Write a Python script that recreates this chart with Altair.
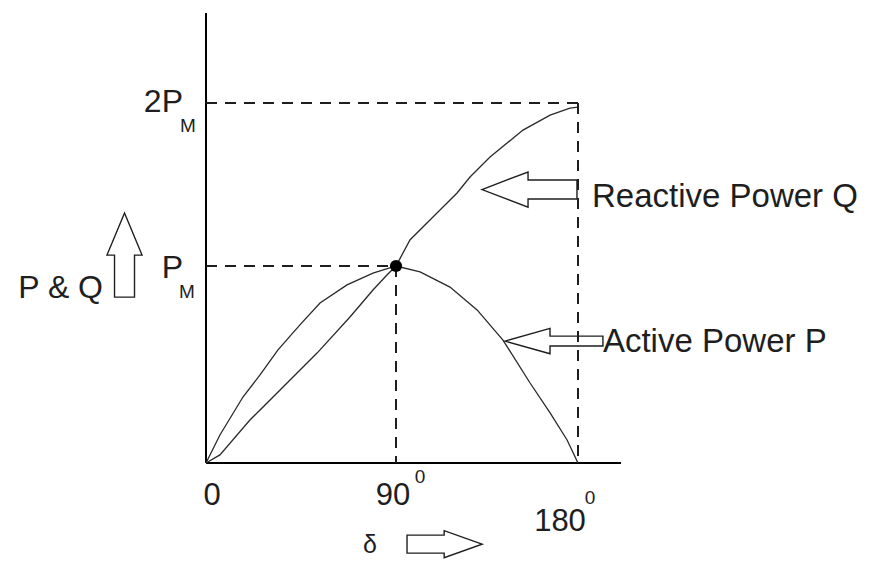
import altair as alt
import pandas as pd

# ---- data (delta in degrees, value in units of P_M) ----
delta_P = [0, 6.6, 17.5, 25.6, 34.1, 44.5, 54.0, 66.8, 79.1, 90, 101.9, 116.7, 130.1, 142.9, 156.3, 166.2, 174.6, 180]
P_vals = [0, 0.142, 0.335, 0.447, 0.574, 0.701, 0.812, 0.904, 0.964, 1.0, 0.970, 0.893, 0.777, 0.624, 0.406, 0.254, 0.117, 0]

delta_Q = [0, 6.6, 20.8, 36.5, 52.6, 68.2, 79.1, 85.7, 90, 96.9, 106.8, 120.2, 126.6, 136.5, 152.8, 166.2, 176.0, 180]
Q_vals = [0, 0.041, 0.218, 0.386, 0.558, 0.741, 0.878, 0.954, 1.0, 1.160, 1.282, 1.448, 1.546, 1.669, 1.834, 1.926, 1.969, 1.975]

x_ticks = [0, 90, 180]
x_tick_labels = ["0", "90", "180"]
y_ticks = [1, 2]
y_tick_labels = ["P", "2P"]
sub_label = "M"
sup_label = "0"

series_names = ["Active Power P", "Reactive Power Q"]

X_MAX = 200
Y_MAX = 2.552

curves = pd.DataFrame(
    {"delta": delta_P + delta_Q,
     "value": P_vals + Q_vals,
     "series": [series_names[0]] * len(delta_P) + [series_names[1]] * len(delta_Q)}
)

guides = pd.DataFrame({
    "x": [x_ticks[0], x_ticks[2], x_ticks[0], x_ticks[1]],
    "x2": [x_ticks[2], x_ticks[2], x_ticks[1], x_ticks[1]],
    "y": [y_ticks[1], y_ticks[1], y_ticks[0], y_ticks[0]],
    "y2": [y_ticks[1], 0, y_ticks[0], 0],
})

axes_df = pd.DataFrame({
    "x": [0, 0], "x2": [X_MAX, 0],
    "y": [0, 0], "y2": [0, Y_MAX],
})

peak = pd.DataFrame({"delta": [x_ticks[1]], "value": [y_ticks[0]]})

xs = alt.Scale(domain=[0, 90, 180, X_MAX], range=[0, 190, 372, 415], nice=False, zero=False)
ys = alt.Scale(domain=[0, 1, 2, Y_MAX], range=[450, 253, 90, 0], nice=False, zero=False)

INK = "#1e1e1e"
FONT = "Liberation Sans"

lines = alt.Chart(curves).mark_line(color="#2a2a2a", strokeWidth=1.3).encode(
    x=alt.X("delta:Q", scale=xs, axis=None),
    y=alt.Y("value:Q", scale=ys, axis=None),
    detail="series:N",
)

axes = alt.Chart(axes_df).mark_rule(color="black", strokeWidth=2).encode(
    x=alt.X("x:Q", scale=xs, axis=None),
    x2="x2:Q",
    y=alt.Y("y:Q", scale=ys, axis=None),
    y2="y2:Q",
)

dashes = alt.Chart(guides).mark_rule(color=INK, strokeWidth=2, strokeDash=[11, 8]).encode(
    x=alt.X("x:Q", scale=xs, axis=None),
    x2="x2:Q",
    y=alt.Y("y:Q", scale=ys, axis=None),
    y2="y2:Q",
)

dot = alt.Chart(peak).mark_circle(color="black", size=150, opacity=1).encode(
    x=alt.X("delta:Q", scale=xs, axis=None),
    y=alt.Y("value:Q", scale=ys, axis=None),
)


def label(text, x, y, size, dx=0, dy=0, align="center", baseline="middle"):
    d = pd.DataFrame({"x": [x], "y": [y], "t": [text]})
    return alt.Chart(d).mark_text(
        font=FONT, fontSize=size, color=INK, dx=dx, dy=dy, align=align, baseline=baseline
    ).encode(
        x=alt.X("x:Q", scale=xs, axis=None),
        y=alt.Y("y:Q", scale=ys, axis=None),
        text="t:N",
    )


def arrow(path, x, y, size):
    d = pd.DataFrame({"x": [x], "y": [y]})
    return alt.Chart(d).mark_point(
        shape=path, size=size, filled=False, stroke=INK, strokeWidth=1.4, opacity=1
    ).encode(
        x=alt.X("x:Q", scale=xs, axis=None),
        y=alt.Y("y:Q", scale=ys, axis=None),
    )


LEFT = "M -1 0 L -0.03 -0.37 L -0.03 -0.2 L 1 -0.2 L 1 0.2 L -0.03 0.2 L -0.03 0.37 Z"
LEFT2 = "M -1 0 L -0.08 -0.26 L -0.08 -0.1 L 1 -0.1 L 1 0.1 L -0.08 0.1 L -0.08 0.26 Z"
UP = "M 0 -1 L 0.417 0 L 0.238 0 L 0.238 1 L -0.238 1 L -0.238 0 L -0.417 0 Z"
RIGHT = "M 1 0 L -0.01 -0.36 L -0.01 -0.24 L -1 -0.24 L -1 0.24 L -0.01 0.24 L -0.01 0.36 Z"

texts = [
    label(x_tick_labels[0], x_ticks[0], 0, 31, dx=6, dy=33),
    label(x_tick_labels[1], x_ticks[1], 0, 31, dx=-3, dy=33),
    label(sup_label, x_ticks[1], 0, 19, dx=24, dy=14),
    label(x_tick_labels[2], x_ticks[2], 0, 31, dx=-18, dy=59),
    label(sup_label, x_ticks[2], 0, 19, dx=12, dy=35),
    label(y_tick_labels[1], 0, y_ticks[1], 32, dx=-23, dy=-1, align="right"),
    label(sub_label, 0, y_ticks[1], 19, dx=-18, dy=23),
    label(y_tick_labels[0], 0, y_ticks[0], 32, dx=-23, dy=2, align="right"),
    label(sub_label, 0, y_ticks[0], 19, dx=-19, dy=26),
    label("P & Q", 0, y_ticks[0], 32, dx=-103, dy=22, align="right"),
    label(series_names[1], 186.5, 1.469, 33, dx=0, dy=7, align="left"),
    label(series_names[0], 191.6, 0.619, 33, dx=0, dy=1, align="left"),
    label("δ", 77.7, -0.452, 25, dy=-7),
]

arrows = [
    arrow(LEFT, 156.0, 1.469, 9025),
    arrow(LEFT2, 168.1, 0.619, 9604),
    arrow(UP, -38.6, 1.067, 7056),
    arrow(RIGHT, 114.0, -0.412, 5625),
]

chart = alt.layer(axes, lines, dashes, dot, *texts, *arrows).properties(
    width=415,
    height=450,
    autosize=alt.AutoSizeParams(type="none"),
    padding={"left": 198, "top": 5, "right": 240, "bottom": 96},
    background="white",
).configure_view(stroke=None)

chart.save("out.html", embed_options={"renderer": "svg", "actions": False})
